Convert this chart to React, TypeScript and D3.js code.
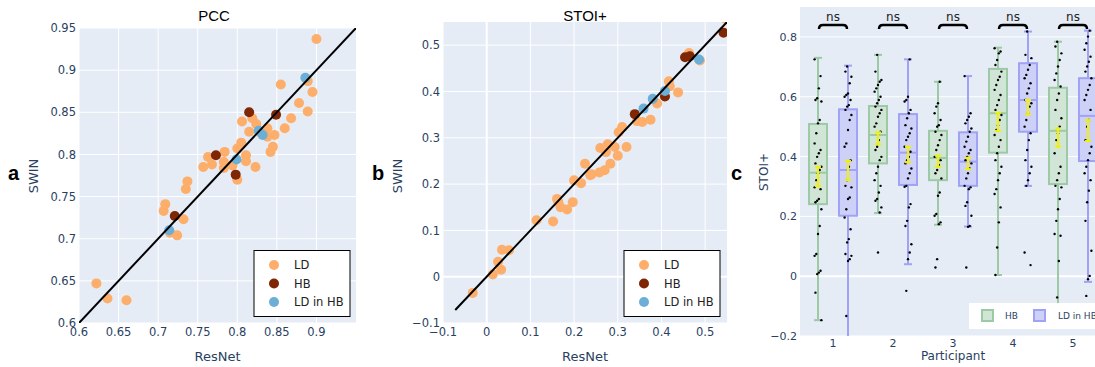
import React from 'react';
import * as d3 from 'd3';

// ---------- Panel a (PCC) ----------
const pccLDx = [0.900,0.889,0.855,0.895,0.878,0.889,0.868,0.860,0.806,0.819,0.824,0.815,0.838,0.838,0.847,0.845,0.842,0.805,0.800,0.763,0.784,0.768,0.757,0.783,0.794,0.811,0.811,0.823,0.800,0.737,0.735,0.709,0.707,0.732,0.715,0.724,0.622,0.636,0.660,0.783,0.829];
const pccLDy = [0.937,0.887,0.883,0.874,0.861,0.851,0.843,0.831,0.839,0.843,0.836,0.827,0.831,0.821,0.823,0.809,0.803,0.814,0.807,0.797,0.803,0.788,0.785,0.791,0.787,0.799,0.792,0.785,0.770,0.768,0.759,0.741,0.733,0.723,0.707,0.704,0.647,0.629,0.627,0.784,0.826];
const pccHBx = [0.815,0.849,0.773,0.798,0.721];
const pccHBy = [0.850,0.847,0.799,0.776,0.727];
const pccLDHBx = [0.886,0.827,0.832,0.799,0.714];
const pccLDHBy = [0.891,0.828,0.823,0.794,0.710];
const pccTicks = [0.6,0.65,0.7,0.75,0.8,0.85,0.9];
const pccYTicks = [0.6,0.65,0.7,0.75,0.8,0.85,0.9,0.95];

// ---------- Panel b (STOI+) ----------
const stoiLDx = [0.546,0.463,0.488,0.417,0.419,0.438,0.390,0.344,0.356,0.375,0.310,0.302,0.260,0.277,0.273,0.293,0.320,0.300,0.283,0.225,0.270,0.258,0.240,0.200,0.216,0.237,0.197,0.184,0.169,0.164,0.161,0.152,0.114,0.051,0.035,0.033,0.026,0.014,-0.032];
const stoiLDy = [0.557,0.483,0.467,0.422,0.411,0.398,0.374,0.336,0.334,0.339,0.323,0.312,0.278,0.286,0.269,0.280,0.280,0.261,0.244,0.244,0.230,0.225,0.221,0.208,0.202,0.219,0.161,0.145,0.150,0.161,0.168,0.119,0.122,0.057,0.058,0.015,0.032,0.005,-0.035];
const stoiHBx = [0.542,0.454,0.465,0.408,0.339];
const stoiHBy = [0.527,0.474,0.476,0.389,0.351];
const stoiLDHBx = [0.486,0.408,0.380,0.359];
const stoiLDHBy = [0.469,0.401,0.384,0.363];
const stoiTicks = [-0.1,0,0.1,0.2,0.3,0.4,0.5];

// ---------- Panel c (boxes) ----------
const participants = ['1','2','3','4','5'];
const hbQ1 = [0.241,0.377,0.321,0.413,0.308];
const hbMed = [0.346,0.472,0.395,0.545,0.486];
const hbQ3 = [0.509,0.569,0.486,0.693,0.630];
const hbLo = [-0.147,0.211,0.172,0.004,-0.15];
const hbHi = [0.730,0.740,0.650,0.764,0.784];
const hbCiLo = [0.301,0.441,0.366,0.486,0.433];
const hbCiHi = [0.366,0.481,0.403,0.547,0.494];
const ldQ1 = [0.202,0.305,0.302,0.483,0.385];
const ldMed = [0.355,0.413,0.383,0.589,0.536];
const ldQ3 = [0.558,0.542,0.481,0.712,0.662];
const ldLo = [-0.3,0.040,0.166,0.302,-0.019];
const ldHi = [0.704,0.725,0.669,0.818,0.821];
const ldCiLo = [0.321,0.381,0.358,0.541,0.452];
const ldCiHi = [0.386,0.433,0.396,0.589,0.522];
const hbPoints = [
  [0.725,0.669,0.628,0.595,0.589,0.584,0.522,0.511,0.478,0.444,0.422,0.411,0.399,0.377,0.366,0.355,0.344,0.321,0.297,0.291,0.258,0.252,0.247,0.224,0.168,0.141,0.074,0.068,0.018,0.012,0.007,-0.055,-0.147],
  [0.740,0.684,0.656,0.650,0.639,0.628,0.617,0.600,0.589,0.578,0.567,0.556,0.545,0.533,0.511,0.500,0.483,0.455,0.433,0.422,0.399,0.388,0.366,0.344,0.321,0.302,0.280,0.258,0.252,0.230,0.213,0.079],
  [0.650,0.578,0.567,0.545,0.522,0.505,0.500,0.483,0.472,0.455,0.438,0.422,0.399,0.388,0.372,0.355,0.344,0.327,0.280,0.269,0.208,0.202,0.180,0.174,0.057,0.029],
  [0.762,0.751,0.745,0.723,0.706,0.684,0.667,0.656,0.639,0.623,0.606,0.589,0.572,0.556,0.539,0.522,0.505,0.489,0.472,0.455,0.433,0.411,0.388,0.366,0.344,0.321,0.291,0.275,0.230,0.180,0.096,0.004],
  [0.784,0.768,0.745,0.723,0.701,0.678,0.656,0.634,0.611,0.589,0.556,0.528,0.500,0.478,0.455,0.411,0.366,0.344,0.321,0.302,0.297,0.258,0.224,0.185,0.141,0.135,0.051,-0.071],
];
const ldPoints = [
  [0.701,0.684,0.667,0.645,0.611,0.606,0.600,0.589,0.572,0.567,0.556,0.539,0.522,0.489,0.444,0.433,0.388,0.366,0.321,0.302,0.297,0.263,0.258,0.224,0.196,0.157,0.124,0.113,0.074,0.068,0.057,0.051,-0.133],
  [0.725,0.600,0.589,0.584,0.556,0.545,0.528,0.505,0.494,0.478,0.466,0.455,0.433,0.416,0.399,0.388,0.377,0.360,0.344,0.327,0.302,0.299,0.241,0.230,0.185,0.168,0.107,0.079,0.057,-0.049],
  [0.669,0.545,0.533,0.522,0.511,0.494,0.483,0.466,0.450,0.433,0.422,0.411,0.399,0.388,0.377,0.360,0.344,0.327,0.302,0.297,0.291,0.247,0.235,0.202,0.168,0.165,0.029],
  [0.818,0.740,0.729,0.706,0.690,0.673,0.662,0.645,0.628,0.611,0.589,0.578,0.567,0.545,0.522,0.500,0.478,0.455,0.422,0.388,0.366,0.344,0.321,0.302,0.079,0.037],
  [0.821,0.801,0.779,0.757,0.734,0.717,0.701,0.684,0.662,0.639,0.623,0.606,0.589,0.556,0.522,0.500,0.455,0.433,0.411,0.388,0.366,0.344,0.321,0.286,0.247,0.185,0.085,0.001,-0.010,-0.066],
];
const boxYTicks = [-0.2,0,0.2,0.4,0.6,0.8];

const C_LD = '#fdae6b';
const C_HB = '#7f2704';
const C_LDHB = '#6baed6';
const BG = '#e5ecf6';
const TICK = '#2a3f5f';
const FONT = '"DejaVu Sans", Verdana, sans-serif';
const ARIAL = '"Liberation Sans", Arial, sans-serif';
const DJ = '"DejaVu Sans", sans-serif';

const fmt = (v: number) => {
  const s = String(+v.toFixed(3));
  return v < 0 ? '\u2212' + s.slice(1) : s;
};

function Scatter(props: any) {
  const { id, x0, x1, y0, y1, dom, xTicks, yTicks, lineDom, ld, hb, ldhb, title, letter, letterX, legX, titleX } = props;
  const xs = d3.scaleLinear().domain(dom).range([x0, x1]);
  const ys = d3.scaleLinear().domain(dom).range([y1, y0]);
  const sets = [
    { xs: ld[0], ys: ld[1], c: C_LD },
    { xs: hb[0], ys: hb[1], c: C_HB },
    { xs: ldhb[0], ys: ldhb[1], c: C_LDHB },
  ];
  const line = d3.line<number>().x((d) => xs(d)).y((d) => ys(d));
  const legItems = [['LD', C_LD], ['HB', C_HB], ['LD in HB', C_LDHB]];
  return (
    <g>
      <defs>
        <clipPath id={id}>
          <rect x={x0} y={y0} width={x1 - x0} height={y1 - y0} />
        </clipPath>
      </defs>
      <rect x={x0} y={y0} width={x1 - x0} height={y1 - y0} fill={BG} />
      {xTicks.map((t: number) => (
        <line key={'gx' + t} x1={xs(t)} x2={xs(t)} y1={y0} y2={y1} stroke="#fff" strokeWidth={Math.abs(t) < 1e-9 ? 2 : 1} />
      ))}
      {yTicks.map((t: number) => (
        <line key={'gy' + t} x1={x0} x2={x1} y1={ys(t)} y2={ys(t)} stroke="#fff" strokeWidth={Math.abs(t) < 1e-9 ? 2 : 1} />
      ))}
      <g clipPath={`url(#${id})`}>
        {sets.map((s, si) =>
          s.xs.map((xv: number, i: number) => (
            <circle key={si + '-' + i} cx={xs(xv)} cy={ys(s.ys[i])} r={5} fill={s.c} />
          ))
        )}
        <path d={line(lineDom) || ''} stroke="#000" strokeWidth={2} fill="none" />
      </g>
      {xTicks.map((t: number) => (
        <text key={'tx' + t} x={xs(t)} y={y1 + 13} textAnchor="middle" fontFamily={FONT} fontSize={11.5} fill={TICK}>{fmt(t)}</text>
      ))}
      {yTicks.map((t: number) => (
        <text key={'ty' + t} x={x0 - 3} y={ys(t) + 4.2} textAnchor="end" fontFamily={FONT} fontSize={11.5} fill={TICK}>{fmt(t)}</text>
      ))}
      <text x={(x0 + x1) / 2} y={361} textAnchor="middle" fontFamily={FONT} fontSize={13} fill={TICK}>ResNet</text>
      <text transform={`translate(${letterX + 30},176) rotate(-90)`} textAnchor="middle" fontFamily={FONT} fontSize={13} fill={TICK}>SWIN</text>
      <text x={titleX} y={21} textAnchor="middle" fontFamily={ARIAL} fontSize={15} fill="#000">{title}</text>
      <text x={letterX} y={180} fontFamily={ARIAL} fontWeight="bold" fontSize={20} fill="#000">{letter}</text>
      <rect x={legX} y={250.5} width={96} height={66} fill="#fff" stroke="#000" strokeWidth={1} />
      {legItems.map((it, i) => (
        <g key={it[0]}>
          <circle cx={legX + 20} cy={265 + i * 18.5} r={5} fill={it[1]} />
          <text x={legX + 40} y={269 + i * 18.5} fontFamily={DJ} fontSize={11.5} fill="#222">{it[0]}</text>
        </g>
      ))}
    </g>
  );
}

function Boxes() {
  const x0 = 800, x1 = 1106, y0 = 7, y1 = 336;
  const xc = d3.scaleLinear().domain([-0.55, 4.55]).range([x0, x1]);
  const ys = d3.scaleLinear().domain([-0.2, 0.9]).range([y1, y0]);
  const groups = [
    { off: -15, q1: hbQ1, med: hbMed, q3: hbQ3, lo: hbLo, hi: hbHi, cl: hbCiLo, ch: hbCiHi, pts: hbPoints, fill: '#d0e5d6', stroke: '#9ccaa5' },
    { off: 15, q1: ldQ1, med: ldMed, q3: ldQ3, lo: ldLo, hi: ldHi, cl: ldCiLo, ch: ldCiHi, pts: ldPoints, fill: '#cdd0f7', stroke: '#a0a2f6' },
  ];
  const bw = 18;
  const jit = (i: number, k: number) => (((i * 7 + k * 3) % 9) - 4) * 0.85;
  return (
    <g>
      <defs>
        <clipPath id="clipc">
          <rect x={x0} y={y0} width={x1 - x0} height={y1 - y0} />
        </clipPath>
      </defs>
      <rect x={x0} y={y0} width={x1 - x0} height={y1 - y0} fill={BG} />
      {boxYTicks.map((t) => (
        <line key={'g' + t} x1={x0} x2={x1} y1={ys(t)} y2={ys(t)} stroke="#fff" strokeWidth={t === 0 ? 2 : 1} />
      ))}
      <g clipPath="url(#clipc)">
        {participants.map((p, k) =>
          groups.map((g, gi) => {
            const cx = xc(k) + g.off;
            return (
              <g key={p + gi}>
                <line x1={cx} x2={cx} y1={ys(g.hi[k])} y2={ys(g.q3[k])} stroke={g.stroke} strokeWidth={2} />
                <line x1={cx} x2={cx} y1={ys(g.q1[k])} y2={ys(g.lo[k])} stroke={g.stroke} strokeWidth={2} />
                <line x1={cx - 4} x2={cx + 4} y1={ys(g.hi[k])} y2={ys(g.hi[k])} stroke={g.stroke} strokeWidth={2} />
                <line x1={cx - 4} x2={cx + 4} y1={ys(g.lo[k])} y2={ys(g.lo[k])} stroke={g.stroke} strokeWidth={2} />
                <rect x={cx - bw / 2} y={ys(g.q3[k])} width={bw} height={ys(g.q1[k]) - ys(g.q3[k])} fill={g.fill} stroke={g.stroke} strokeWidth={2} />
                <line x1={cx - bw / 2} x2={cx + bw / 2} y1={ys(g.med[k])} y2={ys(g.med[k])} stroke={g.stroke} strokeWidth={2} />
                {g.pts[k].map((v, i) => (
                  <circle key={i} cx={cx + jit(i, k + gi)} cy={ys(v)} r={1.2} fill="#000" />
                ))}
                <line x1={cx} x2={cx} y1={ys(g.ch[k])} y2={ys(g.cl[k])} stroke="#f2f200" strokeWidth={2} />
                <line x1={cx - 3} x2={cx + 3} y1={ys(g.ch[k])} y2={ys(g.ch[k])} stroke="#f2f200" strokeWidth={2} />
                <line x1={cx - 3} x2={cx + 3} y1={ys(g.cl[k])} y2={ys(g.cl[k])} stroke="#f2f200" strokeWidth={2} />
              </g>
            );
          })
        )}
      </g>
      {participants.map((p, k) => {
        const a = xc(k) - 14, b = xc(k) + 14, y = 25;
        return (
          <g key={'ns' + p}>
            <path d={`M${a},${y + 4} Q${a},${y} ${a + 4},${y} L${b - 4},${y} Q${b},${y} ${b},${y + 4}`} stroke="#000" strokeWidth={2.5} fill="none" />
            <text x={xc(k)} y={21} textAnchor="middle" fontFamily={DJ} fontSize={12} fill="#222">ns</text>
          </g>
        );
      })}
      {boxYTicks.map((t) => (
        <text key={'t' + t} x={x0 - 3} y={ys(t) + 4} textAnchor="end" fontFamily={FONT} fontSize={11} fill={TICK}>{fmt(t)}</text>
      ))}
      {participants.map((p, k) => (
        <text key={'x' + p} x={xc(k)} y={347} textAnchor="middle" fontFamily={FONT} fontSize={11} fill={TICK}>{p}</text>
      ))}
      <text x={(x0 + x1) / 2} y={360} textAnchor="middle" fontFamily={FONT} fontSize={12} fill={TICK}>Participant</text>
      <text transform="translate(768,172) rotate(-90)" textAnchor="middle" fontFamily={FONT} fontSize={12} fill={TICK}>STOI+</text>
      <text x={731} y={180} fontFamily={ARIAL} fontWeight="bold" fontSize={20} fill="#000">c</text>
      <rect x={969} y={303} width={140} height={26} fill="#fff" />
      <rect x={982} y={310} width={11} height={11} fill={groups[0].fill} stroke={groups[0].stroke} strokeWidth={2} />
      <text x={1005} y={319} fontFamily={FONT} fontSize={9} fill={TICK}>HB</text>
      <rect x={1034} y={310} width={11} height={11} fill={groups[1].fill} stroke={groups[1].stroke} strokeWidth={2} />
      <text x={1058} y={319} fontFamily={FONT} fontSize={9} fill={TICK}>LD in HB</text>
    </g>
  );
}

export default function App() {
  return (
    <svg width={1095} height={367} style={{ position: 'absolute', left: 0, top: 0, background: '#fff' }}>
      <Scatter id="clipa" x0={79} x1={356} y0={28} y1={323} dom={[0.6, 0.95]} xTicks={pccTicks} yTicks={pccYTicks}
        lineDom={[0.6, 0.95]} ld={[pccLDx, pccLDy]} hb={[pccHBx, pccHBy]} ldhb={[pccLDHBx, pccLDHBy]}
        title="PCC" letter="a" letterX={8} legX={254} titleX={214} />
      <Scatter id="clipb" x0={443} x1={727} y0={22} y1={323} dom={[-0.1, 0.55]} xTicks={stoiTicks} yTicks={stoiTicks}
        lineDom={[-0.072, 0.56]} ld={[stoiLDx, stoiLDy]} hb={[stoiHBx, stoiHBy]} ldhb={[stoiLDHBx, stoiLDHBy]}
        title="STOI+" letter="b" letterX={372} legX={624} titleX={585} />
      <Boxes />
    </svg>
  );
}
